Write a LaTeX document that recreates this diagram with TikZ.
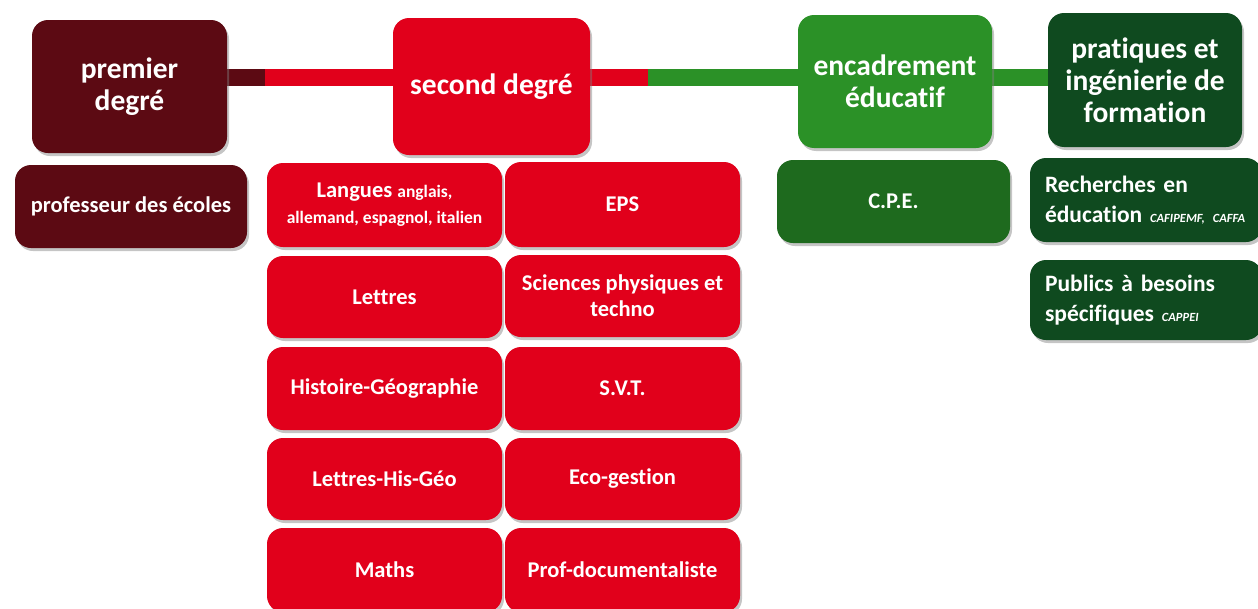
\documentclass[tikz,border=0pt]{standalone}
\usepackage{fontspec}
\setmainfont{Carlito}[Ligatures=NoCommon]
\usetikzlibrary{shadows,backgrounds}
\definecolor{dred}{HTML}{5C0A13}
\definecolor{bred}{HTML}{E1001B}
\definecolor{mgreen}{HTML}{2B9127}
\definecolor{cgreen}{HTML}{1E6A1E}
\definecolor{dgreen}{HTML}{0F4A1F}
\tikzset{
  box/.style={rounded corners=16pt, text=white, font=\bfseries, align=center, inner sep=0pt,
    drop shadow={shadow xshift=2pt, shadow yshift=-3pt, opacity=0.45}},
  head/.style={box, font=\fontsize{29.5}{32}\selectfont\bfseries},
  sub/.style={box, font=\fontsize{22.5}{26}\selectfont\bfseries},
  leftsub/.style={sub, align=left, text width=220pt, font=\fontsize{23.5}{30}\selectfont\bfseries},
  link/.style={line width=17pt},
}
\newcommand{\smalltxt}[1]{{\fontsize{17.5}{20}\selectfont #1}}
\newcommand{\tinytxt}[1]{{\fontsize{12.5}{14}\selectfont\itshape #1}}
\begin{document}
\begin{tikzpicture}[x=1pt,y=-1pt]
\useasboundingbox (0,0) rectangle (1258,608);
\coordinate (c1) at (265,77);
\coordinate (c2) at (648,77);
% head nodes
\node[head, fill=dred, minimum width=195pt, minimum height=133pt] (prem) at (129.5,86.5) {premier\\degré};
\node[head, fill=bred, minimum width=197pt, minimum height=137pt] (sec) at (491.5,86.5) {second degré};
\node[head, fill=mgreen, minimum width=194pt, minimum height=133pt] (enc) at (895,81.5) {encadrement\\éducatif};
\node[head, fill=dgreen, minimum width=194pt, minimum height=134pt] (prat) at (1145,80) {pratiques et\\ingénierie de\\formation};
% sub nodes
\node[sub, fill=dred, minimum width=232pt, minimum height=83pt] (prof) at (131,206.5) {professeur des écoles};
\node[sub, fill=bred, minimum width=235pt, minimum height=84pt] (lang) at (384.5,205) {Langues \smalltxt{anglais,}\\\smalltxt{allemand, espagnol, italien}};
\node[sub, fill=bred, minimum width=235pt, minimum height=85pt] (eps) at (622.5,204.5) {EPS};
\node[sub, fill=bred, minimum width=235pt, minimum height=82pt] (let) at (384.5,297) {Lettres};
\node[sub, fill=bred, minimum width=235pt, minimum height=82pt] (sci) at (622.5,296) {Sciences physiques et\\techno};
\node[sub, fill=bred, minimum width=235pt, minimum height=83pt] (hg) at (384.5,388.5) {Histoire-Géographie};
\node[sub, fill=bred, minimum width=235pt, minimum height=83pt] (svt) at (622.5,388.5) {S.V.T.};
\node[sub, fill=bred, minimum width=235pt, minimum height=82pt] (lhg) at (384.5,479) {Lettres-His-Géo};
\node[sub, fill=bred, minimum width=235pt, minimum height=82pt] (eco) at (622.5,479) {Eco-gestion};
\node[sub, fill=bred, minimum width=235pt, minimum height=84pt] (math) at (384.5,570) {Maths};
\node[sub, fill=bred, minimum width=235pt, minimum height=84pt] (doc) at (622.5,570) {Prof-documentaliste};
\node[sub, fill=cgreen, minimum width=233pt, minimum height=83pt] (cpe) at (893.5,201.5) {C.P.E.};
\node[leftsub, fill=dgreen, minimum width=232pt, minimum height=84pt] (rech) at (1146,200) {\hspace*{9pt}Recherches en\\\hspace*{9pt}éducation \tinytxt{CAFIPEMF, CAFFA}};
\node[leftsub, fill=dgreen, minimum width=232pt, minimum height=80pt] (pub) at (1146,300) {\hspace*{9pt}Publics à besoins\\\hspace*{9pt}spécifiques \tinytxt{CAPPEI}};
% connectors behind
\begin{pgfonlayer}{background}
\fill[white] (0,0) rectangle (1258,608);
\draw[link, dred] (prem.east |- c1) -- (c1);
\draw[link, bred] (c1) -- (sec.west |- c1);
\draw[link, bred] (sec.east |- c1) -- (c2);
\draw[link, mgreen] (c2) -- (enc.west |- c2);
\draw[link, mgreen] (enc.east |- c2) -- (prat.west |- c2);
\end{pgfonlayer}
\end{tikzpicture}
\end{document}
